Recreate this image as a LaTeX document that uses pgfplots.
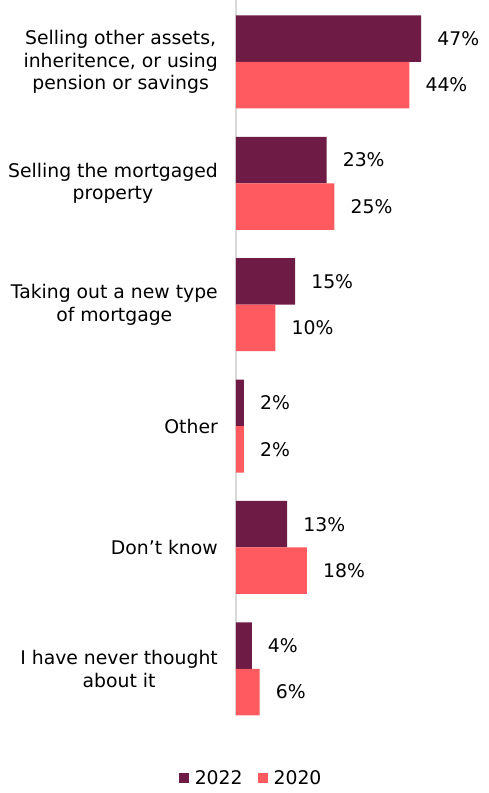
\documentclass[border=0pt]{standalone}
\usepackage{fontspec}
\setmainfont{DejaVu Sans}
\usepackage{pgfplots}
\pgfplotsset{compat=1.18}
\definecolor{c2022}{HTML}{6E1B45}
\definecolor{c2020}{HTML}{FF5A5F}
\begin{document}
\begin{tikzpicture}
\begin{axis}[
  name=ax,
  scale only axis,
  width=236.4pt, height=715pt,
  xbar, bar width=46.5pt,
  xmin=0, xmax=60,
  ymin=-0.38, ymax=5.51,
  axis x line=none,
  axis y line*=left,
  y axis line style={draw=black!15, line width=1.5pt},
  ytick={0,...,5},
  major tick length=0pt,
  yticklabels={
    {I have never thought\\about it},
    {Don’t know},
    {Other},
    {Taking out a new type\\of mortgage},
    {Selling the mortgaged\\property},
    {Selling other assets,\\inheritence, or using\\pension or savings}},
  yticklabel style={align=center, inner sep=0pt, xshift=-18pt,
    font=\fontsize{18.8}{22.5}\selectfont},
  /pgf/number format/assume math mode=true,
  nodes near coords={\pgfmathprintnumber{\pgfplotspointmeta}\%},
  every node near coord/.append style={inner sep=0pt, xshift=16pt,
    font=\fontsize{18.8}{22.5}\selectfont, text=black},
  legend columns=2,
  legend style={draw=none, at={(0.064,-0.0881)}, anchor=center,
    font=\fontsize{18.8}{22.5}\selectfont,
    /tikz/every even column/.append style={column sep=13pt}},
  legend image code/.code={\fill[#1] (0pt,-5pt) rectangle (10pt,5pt); \path (14pt,0pt);},
]
\addplot[fill=c2022, draw=none, bar shift=23.25pt]
  coordinates {(4,0) (13,1) (2,2) (15,3) (23,4) (47,5)};
\addplot[fill=c2020, draw=none, bar shift=-23.25pt]
  coordinates {(6,0) (18,1) (2,2) (10,3) (25,4) (44,5)};
\legend{2022,2020}
\end{axis}
\pgfresetboundingbox
\path ([shift={(-236pt,-78pt)}]ax.south west) rectangle ([shift={(253pt,0pt)}]ax.north west);
\end{tikzpicture}
\end{document}
